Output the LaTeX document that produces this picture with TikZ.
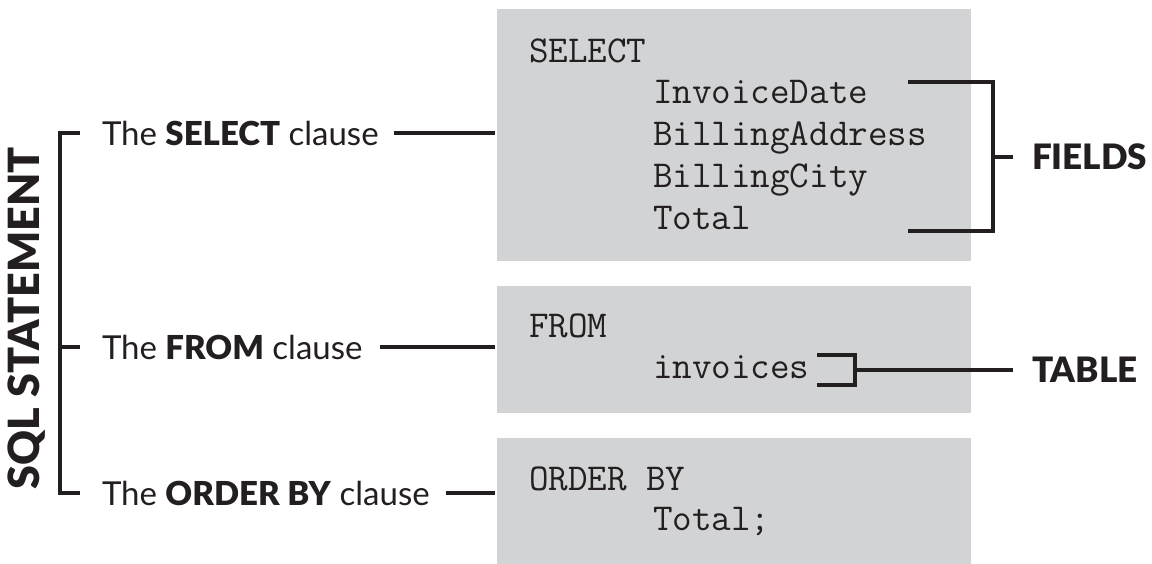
\documentclass[tikz,border=0pt]{standalone}
\usepackage{fontspec}
\setmainfont{Lato}[BoldFont={Lato Black}]
\usetikzlibrary{positioning}
\definecolor{ink}{RGB}{35,31,32}
\definecolor{boxgray}{RGB}{209,211,212}

\begin{document}
\begin{tikzpicture}[x=1pt,y=-1pt,line width=4pt,draw=ink,text=ink,
    codebox/.style={fill=boxgray,draw=none,anchor=north west,inner sep=0pt,minimum width=474pt},
    code/.style={font=\ttfamily\fontsize{38}{38}\selectfont,anchor=base west,inner sep=0pt},
    clause/.style={font=\fontsize{33}{33}\selectfont,anchor=west,inner sep=0pt},
    tag/.style={font=\bfseries\fontsize{35}{35}\selectfont,anchor=west,inner sep=0pt}]
    \useasboundingbox (0,0) rectangle (1152,563);

    % grey panels holding the query
    \node[codebox,minimum height=252pt] (selbox) at (495,7) {};
    \node[codebox,minimum height=127pt] (frmbox) at (495,284) {};
    \node[codebox,minimum height=127pt] (ordbox) at (495,436) {};

    \node[code] (kwsel) at (527,62) {SELECT};
    \node[code] (f1) at (651,103) {InvoiceDate};
    \node[code] (f2) at (651,145) {BillingAddress};
    \node[code] (f3) at (651,187) {BillingCity};
    \node[code] (f4) at (651,229) {Total};
    \node[code] (kwfrm) at (527,337) {FROM};
    \node[code] (tbl) at (651,378) {invoices};
    \node[code] (kword) at (527,490) {ORDER BY};
    \node[code] (ordf) at (651,530) {Total;};

    % clause labels
    \node[clause] (sel) at (100,133) {The \textbf{SELECT} clause};
    \node[clause] (frm) at (100,347) {The \textbf{FROM} clause};
    \node[clause] (ord) at (100,493) {The \textbf{ORDER BY} clause};
    \node[rotate=90,font=\bfseries\fontsize{43}{43}\selectfont,inner sep=0pt] (stmt) at (27,318) {SQL STATEMENT};

    \draw ([xshift=13pt]sel.east) -- (sel.east -| selbox.west);
    \draw ([xshift=15pt]frm.east) -- (frm.east -| frmbox.west);
    \draw ([xshift=14pt]ord.east) -- (ord.east -| ordbox.west);
    \draw ([xshift=-20pt]sel.west) -- ([xshift=-40pt]sel.west) |- ([xshift=-20pt]ord.west);
    \draw ([xshift=-40pt]frm.west) -- ([xshift=-20pt]frm.west);

    % brackets on the right
    \node[tag] (fields) at (1030,157) {FIELDS};
    \node[tag] (table) at (1030,370) {TABLE};
    \coordinate (ftop) at (908,82);
    \coordinate (fbot) at (908,231);
    \draw (ftop) -- ++(85,0) |- (fbot);
    \draw (993,157) -- ([xshift=-17pt]fields.west);
    \coordinate (ttop) at (817,355);
    \coordinate (tbot) at (817,385);
    \draw (ttop) -- ++(38,0) |- (tbot);
    \draw (855,370) -- ([xshift=-17pt]table.west);
\end{tikzpicture}
\end{document}
